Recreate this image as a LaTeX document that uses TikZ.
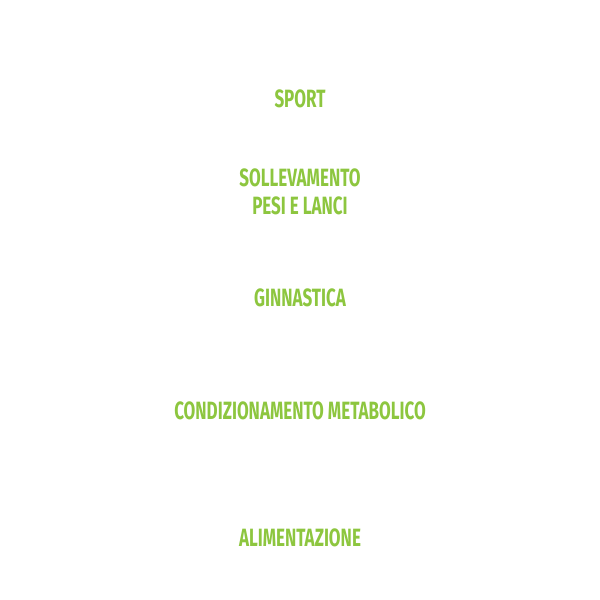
\documentclass[tikz,border=0pt]{standalone}
\usepackage{fontspec}
\setmainfont{Fira Sans}
\definecolor{lime}{HTML}{8DC63F}
\begin{document}
\begin{tikzpicture}[x=1pt,y=-1pt,
  lbl/.style={text=lime,font=\bfseries\fontsize{25}{30}\selectfont,xscale=0.68,align=center,inner sep=0}]
\useasboundingbox (0,0) rectangle (600,600);
\node[lbl] (sport) at (300,99) {SPORT};
\node[lbl] (soll) at (300,192) {SOLLEVAMENTO\\[-2pt]PESI E LANCI};
\node[lbl] (ginn) at (300,298) {GINNASTICA};
\node[lbl] (cond) at (300,411) {CONDIZIONAMENTO METABOLICO};
\node[lbl] (alim) at (300,538) {ALIMENTAZIONE};
\end{tikzpicture}
\end{document}
